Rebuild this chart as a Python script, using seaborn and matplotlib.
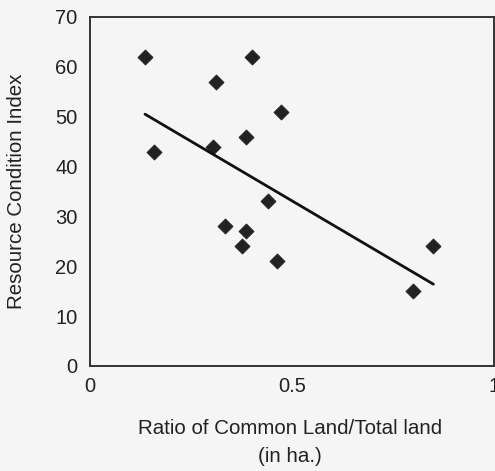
import matplotlib
matplotlib.use("Agg")
import matplotlib.pyplot as plt
import seaborn as sns
import pandas as pd

ratio = [0.136, 0.400, 0.312, 0.473, 0.386, 0.157, 0.304, 0.440, 0.333, 0.386, 0.375, 0.462, 0.850, 0.800]
rci = [62, 62, 57, 51, 46, 43, 44, 33, 28, 27, 24, 21, 24, 15]
trend_x = [0.136, 0.850]
trend_y = [50.5, 16.4]
x_ticks = [0, 0.5, 1]
x_tick_labels = ["0", "0.5", "1"]
y_ticks = [0, 10, 20, 30, 40, 50, 60, 70]

sns.set_theme(style="white")
plt.rcParams['font.family'] = ['Liberation Sans', 'DejaVu Sans']

bg = "#f5f5f5"
fig = plt.figure(figsize=(4.95, 4.71), dpi=100, facecolor=bg)
ax = fig.add_axes([0.182, 0.223, 0.816, 0.741], facecolor=bg)

df = pd.DataFrame({"x": ratio, "y": rci})
sns.scatterplot(data=df, x="x", y="y", marker="D", s=60, color="#222222",
                edgecolor="#222222", linewidth=0.5, ax=ax, zorder=3)
tdf = pd.DataFrame({"x": trend_x, "y": trend_y})
sns.lineplot(data=tdf, x="x", y="y", color="#111111", linewidth=2.0, ax=ax, zorder=4)

ax.set_xlim(0, 1)
ax.set_ylim(0, 70)
ax.set_xticks(x_ticks)
ax.set_xticklabels(x_tick_labels)
ax.set_yticks(y_ticks)
ax.tick_params(axis="both", direction="inout", length=8, width=1.0, color="#333333",
               labelsize=14.5, labelcolor="#222222")
ax.tick_params(axis="y", pad=5)
ax.tick_params(axis="x", pad=4)
for s in ax.spines.values():
    s.set_color("#333333")
    s.set_linewidth(1.4)
ax.set_xlabel("Ratio of Common Land/Total land\n(in ha.)", fontsize=14.8, color="#222222",
              linespacing=1.6)
ax.set_ylabel("Resource Condition Index", fontsize=14.8, color="#222222")
ax.xaxis.set_label_coords(0.495, -0.152)
ax.yaxis.set_label_coords(-0.158, 0.5)

fig.savefig("out.png", dpi=100, facecolor=bg)
